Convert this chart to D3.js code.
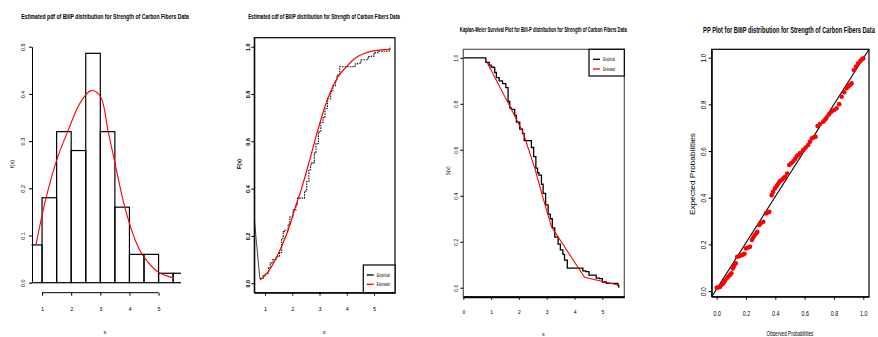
<!DOCTYPE html>
<html lang="en">
<head>
<meta charset="UTF-8">
<title>BIIIP fits, Strength of Carbon Fibers</title>
<style>
  body { margin: 0; background: #fff; }
  svg text { font-family: "Liberation Sans", Arial, sans-serif; fill: #000; }
  .title { font-weight: bold; }
  .axis path, .axis line { stroke: #000; }
  .box { fill: none; stroke: #000; stroke-width: 1.2px; }
</style>
</head>
<body>
<div id="chart"></div>
<script src="https://d3js.org/d3.v7.min.js"></script>
<script>
"use strict";

// ---- data ----
// histogram (density scale)
var histBreaks = [0.5, 1, 1.5, 2, 2.5, 3, 3.5, 4, 4.5, 5, 5.5, 6];
var histDensity = [0.08, 0.18, 0.32, 0.28, 0.486, 0.32, 0.16, 0.06, 0.06, 0.02, 0.02];
// fitted pdf (red)
var pdfX = [0.79, 1.14, 1.53, 1.88, 2.3, 2.68, 3.0, 3.27, 3.48, 3.84, 4.2, 4.46, 5.0, 5.53];
var pdfY = [0.08, 0.18, 0.265, 0.32, 0.38, 0.407, 0.395, 0.32, 0.26, 0.16, 0.09, 0.058, 0.022, 0.01];
// empirical cdf jumps
var ecdfX = [0.81, 0.93, 1.0, 1.07, 1.13, 1.19, 1.29, 1.41, 1.53, 1.61, 1.67, 1.73, 1.85, 1.91, 2.03, 2.13, 2.19, 2.45,
             2.53, 2.61, 2.67, 2.72, 2.81, 2.87, 2.96, 3.05, 3.13, 3.2, 3.29, 3.41, 3.49, 3.58, 3.64, 3.74, 4.3, 4.4,
             4.52, 4.78, 4.9, 5.0, 5.14, 5.56, 5.59];
var ecdfF = [0.02, 0.032, 0.04, 0.042, 0.064, 0.086, 0.1, 0.112, 0.13, 0.19, 0.218, 0.224, 0.25, 0.28, 0.31, 0.33, 0.36, 0.39,
             0.43, 0.48, 0.5, 0.51, 0.55, 0.59, 0.64, 0.68, 0.7, 0.74, 0.78, 0.81, 0.835, 0.855, 0.88, 0.915, 0.927, 0.93,
             0.945, 0.958, 0.96, 0.975, 0.981, 0.99, 1.0];
var ecdfLeadX = [0.6, 0.81];
var ecdfLeadF = [0.28, 0.02];
// fitted cdf (red)
var cdfX = [0.82, 1.12, 1.55, 1.85, 2.1, 2.34, 2.59, 2.89, 3.14, 3.38, 3.68, 3.99, 4.3, 4.66, 5.03, 5.58];
var cdfF = [0.014, 0.049, 0.141, 0.225, 0.317, 0.4, 0.5, 0.627, 0.725, 0.803, 0.873, 0.915, 0.951, 0.972, 0.983, 0.989];
// fitted survival (red)
var survX = [0.81, 1.67, 2.15, 2.57, 2.87, 3.17, 4.36, 5.56];
var survS = [0.99, 0.79, 0.675, 0.52, 0.39, 0.265, 0.045, 0.012];
// PP plot points
var ppObs = [0.0, 0.01, 0.022, 0.033, 0.045, 0.056, 0.068, 0.079, 0.09, 0.1, 0.11, 0.12, 0.13, 0.14, 0.155, 0.17, 0.18,
             0.19, 0.2, 0.215, 0.227, 0.24, 0.25, 0.26, 0.27, 0.277, 0.29, 0.3, 0.318, 0.336, 0.348, 0.359, 0.375, 0.385,
             0.397, 0.41, 0.42, 0.43, 0.443, 0.455, 0.466, 0.481, 0.495, 0.508, 0.522, 0.535, 0.545, 0.556, 0.57, 0.59,
             0.607, 0.624, 0.636, 0.648, 0.66, 0.675, 0.688, 0.705, 0.727, 0.74, 0.75, 0.767, 0.784, 0.8, 0.818, 0.836,
             0.852, 0.87, 0.886, 0.898, 0.909, 0.92, 0.936, 0.95, 0.965, 0.98, 0.99, 1.0];
var ppExp = [0.014, 0.016, 0.018, 0.026, 0.033, 0.044, 0.054, 0.062, 0.069, 0.076, 0.097, 0.108, 0.119, 0.147, 0.15, 0.154,
             0.157, 0.16, 0.183, 0.187, 0.19, 0.219, 0.23, 0.24, 0.248, 0.254, 0.283, 0.29, 0.297, 0.333, 0.337, 0.34, 0.411,
             0.425, 0.44, 0.45, 0.46, 0.47, 0.476, 0.483, 0.49, 0.504, 0.54, 0.548, 0.556, 0.566, 0.576, 0.583, 0.592, 0.604,
             0.615, 0.626, 0.64, 0.654, 0.658, 0.661, 0.707, 0.716, 0.726, 0.735, 0.744, 0.757, 0.769, 0.776, 0.783, 0.801,
             0.833, 0.852, 0.869, 0.877, 0.883, 0.89, 0.947, 0.962, 0.976, 0.986, 0.993, 0.997];

var ticks01 = [0, 0.2, 0.4, 0.6, 0.8, 1.0];

var svg = d3.select("#chart").append("svg")
    .attr("width", 878).attr("height", 337);
svg.append("rect").attr("width", 878).attr("height", 337).attr("fill", "#fff");
var defs = svg.append("defs");

function zip(a, b) { return a.map(function (v, i) { return [v, b[i]]; }); }

function clip(id, x0, y0, x1, y1) {
    defs.append("clipPath").attr("id", id).append("rect")
        .attr("x", x0).attr("y", y0).attr("width", x1 - x0).attr("height", y1 - y0);
    return "url(#" + id + ")";
}

function yAxis(g, y, x0, ticks, fmt, off, fs) {
    var ax = g.append("g").attr("class", "axis").attr("transform", "translate(" + x0 + ",0)")
        .call(d3.axisLeft(y).tickValues(ticks).tickFormat(d3.format(fmt)).tickSize(3).tickSizeOuter(0));
    ax.selectAll("text")
        .attr("x", 0).attr("dy", "0.35em")
        .attr("transform", "translate(" + (-off) + ",0) rotate(-90)")
        .attr("text-anchor", "middle")
        .style("font-size", fs + "px");
    return ax;
}

function xAxis(g, x, y0, ticks, fmt, off, fs, sx) {
    var ax = g.append("g").attr("class", "axis").attr("transform", "translate(0," + y0 + ")")
        .call(d3.axisBottom(x).tickValues(ticks).tickFormat(d3.format(fmt)).tickSize(3).tickSizeOuter(0));
    ax.selectAll("text").attr("y", 0).attr("dy", "0.35em").style("font-size", fs + "px")
        .attr("transform", "translate(0," + off + ")" + (sx ? " scale(" + sx + ",1)" : ""));
    return ax;
}

// text centred at (x, y); squeezed horizontally to the width `len` when given
function label(g, txt, x, y, fs, rot, len, cls) {
    var t = g.append("text").attr("text-anchor", "middle").attr("dy", "0.35em")
        .style("font-size", fs + "px").text(txt);
    if (cls) t.attr("class", cls);
    var tr = "translate(" + x + "," + y + ")" + (rot ? " rotate(-90)" : "");
    if (len) {
        var w = t.node().getComputedTextLength();
        tr += " scale(" + (len / w) + ",1)";
    }
    t.attr("transform", tr);
    return t;
}

function legend(g, x0, y0, x1, y1, rows) {
    g.append("rect").attr("x", x0).attr("y", y0).attr("width", x1 - x0).attr("height", y1 - y0)
        .attr("fill", "#fff").attr("stroke", "#000").attr("stroke-width", 1.2);
    rows.forEach(function (r) {
        g.append("line").attr("x1", r.lx).attr("x2", r.lx + 7).attr("y1", r.y).attr("y2", r.y)
            .attr("stroke", r.color).attr("stroke-width", 1.3);
        label(g, r.text, r.lx + 10 + r.len / 2, r.y, 4.5, false, r.len);
    });
}

// ---------- panel 1 : histogram + pdf ----------
(function () {
    var g = svg.append("g");
    var x = d3.scaleLinear().domain([0.655, 5.77]).range([32, 181]);
    var y = d3.scaleLinear().domain([0, 0.5]).range([282.7, 46.7]);
    var cp = clip("c1", 31.5, 30, 181, 284);

    g.append("g").attr("clip-path", cp).selectAll("rect").data(histDensity).join("rect")
        .attr("x", function (d, i) { return x(histBreaks[i]); })
        .attr("width", function (d, i) { return x(histBreaks[i + 1]) - x(histBreaks[i]); })
        .attr("y", function (d) { return y(d); })
        .attr("height", function (d) { return y(0) - y(d); })
        .attr("fill", "none").attr("stroke", "#000").attr("stroke-width", 1.2);

    g.append("path").datum(zip(pdfX, pdfY))
        .attr("d", d3.line().x(function (d) { return x(d[0]); }).y(function (d) { return y(d[1]); })
            .curve(d3.curveCatmullRom))
        .attr("fill", "none").attr("stroke", "#ff0000").attr("stroke-width", 1.1);

    yAxis(g, y, 32, [0, 0.1, 0.2, 0.3, 0.4, 0.5], ".1f", 9.3, 5.5);
    var xa = xAxis(g, x, 292.7, [1, 2, 3, 4, 5], "d", 16.3, 5.5);
    xa.select(".domain").remove();
    xa.append("line").attr("x1", x(1)).attr("x2", x(5)).attr("stroke", "#000");

    label(g, "Estimated pdf of BIIIP distribution for Strength of Carbon Fibers Data", 105, 16, 7.5, false, 168, "title");
    label(g, "f(x)", 12, 164, 5.5, true);
    label(g, "x", 105, 331.7, 6, false);
})();

// ---------- panel 2 : cdf ----------
(function () {
    var g = svg.append("g");
    var x = d3.scaleLinear().domain([0.607, 5.77]).range([254.3, 395]);
    var y = d3.scaleLinear().domain([-0.04, 1.038]).range([292.7, 37.7]);
    var cp = clip("c2", 254.3, 37.7, 395, 292.7);
    var line = d3.line().x(function (d) { return x(d[0]); }).y(function (d) { return y(d[1]); });
    var pg = g.append("g").attr("clip-path", cp);

    pg.append("path").datum(zip(ecdfLeadX, ecdfLeadF)).attr("d", line)
        .attr("fill", "none").attr("stroke", "#444").attr("stroke-width", 1);
    pg.append("path").datum(zip(ecdfX, ecdfF)).attr("d", line.curve(d3.curveStepAfter))
        .attr("fill", "none").attr("stroke", "#111").attr("stroke-width", 1.1).attr("stroke-dasharray", "1.6 1");
    pg.append("path").datum(zip(cdfX, cdfF))
        .attr("d", d3.line().x(function (d) { return x(d[0]); }).y(function (d) { return y(d[1]); }).curve(d3.curveMonotoneX))
        .attr("fill", "none").attr("stroke", "#ff0000").attr("stroke-width", 1.2);

    g.append("rect").attr("class", "box").attr("x", 254.3).attr("y", 37.7).attr("width", 395 - 254.3).attr("height", 292.7 - 37.7);
    yAxis(g, y, 254.3, ticks01, ".1f", 6.6, 5.5).style("font-weight", "bold");
    xAxis(g, x, 292.7, [1, 2, 3, 4, 5], "d", 16.3, 5.5);

    legend(g, 363.3, 265, 395, 292.7, [
        { text: "Empirical", color: "#000", lx: 366.7, y: 275, len: 13 },
        { text: "Estimated", color: "#ff0000", lx: 366.7, y: 284.3, len: 13 }
    ]);

    label(g, "Estimated cdf of BIIIP distribution for Strength of Carbon Fibers Data", 324, 16.5, 7, false, 152, "title");
    label(g, "F(x)", 239, 164, 5.5, true).style("font-weight", "bold");
    label(g, "x", 324.3, 331.7, 6, false);
})();

// ---------- panel 3 : Kaplan-Meier ----------
(function () {
    var g = svg.append("g");
    var x = d3.scaleLinear().domain([0, 5.79]).range([463.3, 624.3]);
    var y = d3.scaleLinear().domain([-0.039, 1.037]).range([296.7, 49.3]);
    var cp = clip("c3", 463.3, 49.3, 624.3, 296.7);
    var line = d3.line().x(function (d) { return x(d[0]); }).y(function (d) { return y(d[1]); });
    var pg = g.append("g").attr("clip-path", cp);

    var km = [[0, 1]].concat(ecdfX.map(function (v, i) { return [v, 1 - ecdfF[i]]; }));
    pg.append("path").datum(km).attr("d", line.curve(d3.curveStepAfter))
        .attr("fill", "none").attr("stroke", "#000").attr("stroke-width", 1.3);
    pg.append("path").datum(zip(survX, survS))
        .attr("d", d3.line().x(function (d) { return x(d[0]); }).y(function (d) { return y(d[1]); }))
        .attr("fill", "none").attr("stroke", "#ff0000").attr("stroke-width", 1.1);

    g.append("rect").attr("class", "box").attr("x", 463.3).attr("y", 49.3).attr("width", 624.3 - 463.3).attr("height", 296.7 - 49.3)
        .style("stroke", "#555");
    yAxis(g, y, 463.3, ticks01, ".1f", 6.6, 5).select(".domain").remove();
    var xa = xAxis(g, x, 296.7, [0, 1, 2, 3, 4, 5], "d", 16, 5);
    xa.select(".domain").attr("stroke-width", 2);

    legend(g, 589, 49.3, 624.3, 76, [
        { text: "Empirical", color: "#000", lx: 593, y: 59.3, len: 12 },
        { text: "Estimated", color: "#ff0000", lx: 593, y: 69, len: 12 }
    ]);

    label(g, "Kaplan-Meier Survival Plot for BIII-P distribution for Strength of Carbon Fibers Data", 543.3, 30, 6.3, false, 167, "title");
    label(g, "S(x)", 448.5, 171, 5, true);
    label(g, "x", 543.3, 334.3, 5.5, false);
})();

// ---------- panel 4 : PP plot ----------
(function () {
    var g = svg.append("g");
    var x = d3.scaleLinear().domain([-0.034, 1.039]).range([711.7, 869]);
    var y = d3.scaleLinear().domain([-0.024, 1.036]).range([296.7, 49.3]);
    var cp = clip("c4", 711.7, 49.3, 869, 296.7);
    var pg = g.append("g").attr("clip-path", cp);

    pg.append("line").attr("x1", x(-0.034)).attr("y1", y(-0.024)).attr("x2", x(1.039)).attr("y2", y(1.036))
        .attr("stroke", "#000").attr("stroke-width", 1.1);
    pg.selectAll("circle").data(zip(ppObs, ppExp)).join("circle")
        .attr("cx", function (d) { return x(d[0]); })
        .attr("cy", function (d) { return y(d[1]); })
        .attr("r", 2.3).attr("fill", "#ff0000");

    g.append("rect").attr("class", "box").attr("x", 711.7).attr("y", 49.3).attr("width", 869 - 711.7).attr("height", 296.7 - 49.3);
    yAxis(g, y, 711.7, ticks01, ".1f", 8.4, 6.3);
    xAxis(g, x, 296.7, ticks01, ".1f", 16.6, 6.3, 0.85);

    label(g, "PP Plot for BIIIP distribution for Strength of Carbon Fibers Data", 789, 30, 8.5, false, 172, "title");
    label(g, "Expected Probabilities", 692.7, 174, 6.5, true, 82);
    label(g, "Observed Probabilities", 790, 334, 6.5, false, 47);
})();
</script>
</body>
</html>
